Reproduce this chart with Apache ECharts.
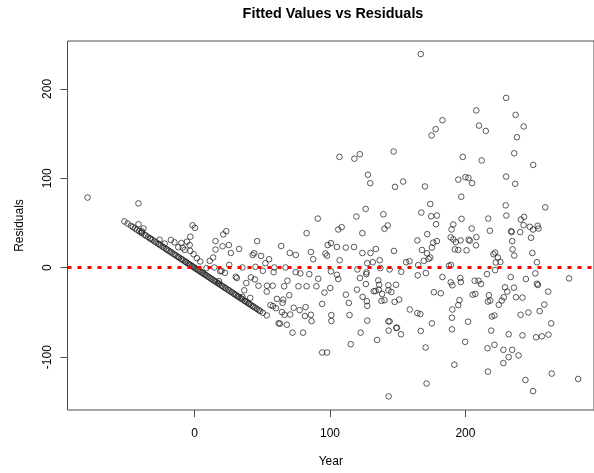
<!DOCTYPE html>
<html>
<head>
<meta charset="utf-8">
<script src="https://cdn.jsdelivr.net/npm/echarts@6/dist/echarts.min.js"></script>
<style>
  html, body { margin: 0; padding: 0; background: #ffffff; }
  #chart { width: 594px; height: 473px; }
</style>
</head>
<body>
<div id="chart"></div>
<script>
// Residuals against fitted values; every point is [fitted, residual].

// Observations with a zero response: residual equals minus the fitted value.
const zeroResponse = [
  [-51.8,51.8],[-49.4,49.4],[-47,47],[-45.5,45.5],[-44,44],[-42.6,42.6],[-41,41],[-39.5,39.5],
  [-38.9,38.9],[-37,37],[-36,36],[-34.5,34.5],[-33,33],[-32.3,32.3],[-31,31],[-29.5,29.5],
  [-28.4,28.4],[-27,27],[-26,26],[-24.8,24.8],[-23.5,23.5],[-22.4,22.4],[-21,21],[-20.1,20.1],
  [-19,19],[-17.8,17.8],[-16.9,16.9],[-15.5,15.5],[-14.6,14.6],[-13.4,13.4],[-12.1,12.1],[-11.3,11.3],
  [-10,10],[-9.2,9.2],[-8.1,8.1],[-7,7],[-6.2,6.2],[-5.1,5.1],[-4,4],[-3.2,3.2],[-2.1,2.1],[-1.3,1.3],
  [-0.4,0.4],[0.6,-0.6],[1.5,-1.5],[2.4,-2.4],[3.5,-3.5],[4.3,-4.3],[5.4,-5.4],[6.2,-6.2],[7.3,-7.3],
  [8.1,-8.1],[9,-9],[10.2,-10.2],[11,-11],[12.1,-12.1],[13,-13],[14.2,-14.2],[15,-15],[16.1,-16.1],
  [17.2,-17.2],[18,-18],[19.1,-19.1],[20.3,-20.3],[21.2,-21.2],[22.4,-22.4],[23.1,-23.1],[24.5,-24.5],
  [25.3,-25.3],[26.6,-26.6],[27.4,-27.4],[28.7,-28.7],[29.5,-29.5],[30.6,-30.6],[31.8,-31.8],[32.5,-32.5],
  [33.7,-33.7],[34.6,-34.6],[35.4,-35.4],[36.8,-36.8],[37.5,-37.5],[38.6,-38.6],[39.7,-39.7],[40.4,-40.4],
  [41.5,-41.5],[42.8,-42.8],[43.6,-43.6],[44.9,-44.9],[46.1,-46.1],[47.4,-47.4],[48.5,-48.5],[50.4,-50.4],
  [53.3,-53.3],[62.1,-62.1],[63,-62.6]
];

// Small fitted values (below zero).
const lowFitted = [
  [-79,78.5],[-41.4,72],[-41.4,48.7],[-37.7,43.9],[-38.9,40.8],[-25.8,31.4],[-17.5,31],[-14.8,28.4],
  [-9.7,27.6],[-5.6,29.2],[-3.1,34.7],[-1.5,47.5],[0.3,44.7],[-8.8,22.5],[-7.3,19.9],[-3.6,25.4],
  [-0.7,15.1],[-3.1,18.8],[-22,27],[-12,23]
];

// Fitted values between 0 and 100.
const midLowFitted = [
  [23.4,40.9],[21.2,37.3],[15.5,29.8],[25.3,25.4],[20.7,24],[15.5,20.3],[46.2,29.8],[32.9,21],
  [26.8,16.5],[13.7,11.4],[11.2,7.7],[4.2,7],[1.7,10.7],[44,16.2],[42.9,14.3],[49.1,13.2],[64,24.3],
  [70.3,16.5],[74.7,14.3],[55,9.5],[52.3,5.1],[85.9,17.6],[87.6,9.5],[96.6,15.9],[25.6,3.2],[8.8,-0.4],
  [14.6,0.3],[35.3,0.3],[45,1],[58.9,0.3],[67.2,0.3],[50.4,-3.4],[58.4,-4.9],[74.7,-4.9],[78.1,-6.3],
  [84.7,-7.1],[30.4,-10.1],[31.2,-11.5],[19,-4.1],[19.9,-3.4],[22.4,-5.7],[18,-14.9],[41.6,-10.8],
  [44.5,-13],[38.2,-17.1],[68.6,-14.5],[91.3,-12.3],[53.5,-20.1],[57.7,-20.1],[47.2,-20.1],[66.2,-20.7],
  [76.7,-20.7],[82.7,-20.7],[90,-20.7],[91,55],[82.7,38.7],
  [64.5,-49.6],[66.4,-52.6],[70.6,-52.3],[56,-41.8],[57.9,-42.9],[60.1,-45.2],[60.8,-34.8],[65.5,-35.6],
  [65,-39.3],[69.9,-30.7],[73.2,-44.8],[77.6,-47.4],[82,-44],[81.5,-54],[85.9,-52.6],[86.4,-59.6],
  [94.2,-40.4],[95.9,-27.8],[53.3,-26.7],[36.7,-25.2],[41.1,-33.7],[35.3,-32.6],[68.1,-63.7],
  [72.3,-72.6],[80.1,-72.6],[94.2,-94.8],[97.8,-94.8]
];

// Fitted values between 100 and 200.
const midHighFitted = [
  [108.6,45.4],[106.1,42.8],[123.9,38.7],[142.6,47.3],[140.2,43.6],[178.3,48.7],[191,48.4],[189.8,42.8],
  [171.8,37.6],[164.5,30.6],[176.2,28.1],[178.9,29.8],[189.1,34],[191,31.7],[192.9,28.7],[196.4,30.6],
  [100.7,27.6],[98.3,25.4],[105.1,23.2],[111.7,22.5],[117.7,23.2],[123.9,16.5],[129.9,16.5],[133.8,21],
  [147.2,18.8],[167.9,19.9],[171.6,16.2],[175.2,22.5],[174,11.4],[172.8,9.9],[192.2,20.6],[194.7,19.9],
  [107.1,8.4],[131.6,6.2],[127.5,5.1],[136.7,8.4],[156.2,6.2],[158.7,7.3],[165.1,2.9],[169.2,7.7],
  [187.8,2.1],[189.3,3.2],[97.8,13.6],[120.2,-1.9],[137.2,-0.4],[144,-1.9],[152.6,-4.5],[100.7,-4.1],
  [105.1,-7.9],[106.1,-12.6],[127,-5.2],[126.8,-7.1],[122.1,-11.5],[164.8,-8.5],[170.8,-6],[183,-10.4],
  [135.6,-14.1],[136.3,-19],[126.5,-18.2],[143.1,-19.6],[148.7,-19],[189.1,-16.3],[190.3,-19.6],
  [196.2,-11.5],[196.6,-16],[100.2,-22.6],[101,-52.9],[101,-59.6],
  [111.7,-30.1],[113.9,-39.3],[119.9,-24.5],[124.1,-32.6],[127.2,-37.4],[127.5,-42.6],[132.3,-26.3],
  [133.6,-26],[136,-24.5],[138.5,-29.3],[138,-37.1],[140.2,-36.3],[143.1,-25.2],[145.3,-27.1],
  [147.7,-38.2],[151.1,-35.6],[158.9,-46.7],[164.5,-50.7],[166.7,-51.8],[176.7,-27.4],[181.8,-28.5],
  [195.6,-36.3],[194.7,-41.8],[190.3,-46.7],[190,-55.9],[190,-68.9],[114.4,-52.9],[127.5,-59.2],
  [143.1,-60],[144,-60],[122.6,-72.6],[143.3,-70.3],[148.9,-67.3],[149.4,-67],[152.4,-74.4],[167,-70.7],
  [175.2,-62.2],[115.3,-85.5],[134.8,-80.7],[170.6,-89.2],[199.8,-82.9],[191.8,-108.4],[171.3,-129.5],
  [143.3,-143.9],
  [129.7,94.6],[148,90.5],[154,96.4],[170.1,90.9],[194.7,98.6],[196.9,79.4],[174,71.3],[167.4,61.7],
  [174.7,57.6],[178.9,58.4],[126.3,65.8],[119.5,57.3],[139.4,59.8],[197.1,54.7],
  [167,239],[183,165],[178,155],[175,148],[107,124],[118,122],[122,127],[147,130],[198,124],[128,104]
];

// Fitted values above 200.
const highFitted = [
  [230,190],[208,176],[237,171],[210,159],[215,153],[243,158],[238,146],[212,120],[236,128],[250,115],
  [200,101.3],[202.2,100.5],[204.9,94.6],[230,102],[236.7,93.9],[229.7,69.8],[258.9,67.6],[230.2,58.4],
  [216.8,55],[243.3,56.9],[240.9,53.9],
  [204.6,43.9],[218,41.4],[233.8,40.9],[234.1,39.8],[240.4,39.8],[242.9,47.6],[247.5,45.8],[249.9,42.8],
  [253.3,46.9],[254,43.9],[248.4,33.6],[234.5,29.8],[208.1,34.3],[202.4,31.4],[203.2,30.3],[207.8,25.1],
  [200.8,19.5],[234.8,20.6],[236,13.6],[249.4,16.5],[220.7,15.1],[221.9,17],[223.9,11.4],[225.8,6.5],
  [222.4,5.9],[252.8,6.2],[221.9,-2.7],[215.9,-7.1],[233.4,-10.4],[244.6,-12.6],[251.6,-6.3],
  [276.5,-11.9],[206.8,-14.5],[209.7,-14.5],[252.8,-17.9],
  [211.5,-18.2],[205.3,-30.1],[207.3,-29.3],[217.3,-30.7],[216.6,-37.8],[218.3,-36.7],[229.2,-21.9],
  [235.8,-22.3],[230.9,-26.7],[228.3,-33],[226.8,-36.7],[224.6,-41.5],[237.3,-33],[242.1,-33.4],
  [253.5,-19.3],[261.1,-26.7],[258.2,-41.2],[254.8,-48.5],[240.7,-52.6],[246.5,-50],[219.5,-54.5],
  [221.4,-53.4],[202,-60.4],[263.3,-62.2],[219,-70.3],[231.9,-74.4],[242.1,-75.6],[252.1,-77.8],
  [256.4,-76.7],[261.3,-74.8],[216.3,-90],[221.4,-86.2],[228,-91.8],[234.5,-91.8],[231.9,-100],
  [239.2,-98.1],[228,-106.6],[216.6,-116.2],[244.3,-125.5],[263.7,-118.4],[283.2,-124.4],[249.9,-138]
];

const xTicks = [0, 100, 200];
const yTicks = [-100, 0, 100, 200];

const allPoints = zeroResponse.concat(lowFitted, midLowFitted, midHighFitted, highFitted);

const font = '"Liberation Sans", Arial, sans-serif';
const ink = '#000000';

const chart = echarts.init(document.getElementById('chart'), null, { renderer: 'canvas' });

chart.setOption({
  animation: false,
  backgroundColor: '#ffffff',
  graphic: [{
    type: 'text',
    x: 333,
    y: 14.5,
    style: {
      text: 'Fitted Values vs Residuals',
      font: 'bold 14.4px ' + font,
      fill: ink,
      align: 'center',
      verticalAlign: 'middle'
    }
  }],
  grid: {
    left: 67.5, top: 41, right: -6, bottom: 60.3,
    show: true, borderColor: '#4d4d4d', borderWidth: 1,
    containLabel: false
  },
  xAxis: {
    type: 'value',
    min: -93.8, max: 294.9,
    splitLine: { show: false },
    axisLine: { show: false, onZero: false },
    axisTick: { show: true, inside: false, length: 7, customValues: xTicks,
                lineStyle: { color: '#4d4d4d', width: 1 } },
    axisLabel: { show: true, customValues: xTicks, margin: 18,
                 fontFamily: font, fontSize: 12, color: ink },
    name: 'Year', nameLocation: 'middle', nameGap: 46,
    nameTextStyle: { fontFamily: font, fontSize: 12, color: ink }
  },
  yAxis: {
    type: 'value',
    min: -159.1, max: 253.6,
    splitLine: { show: false },
    axisLine: { show: false, onZero: false },
    axisTick: { show: true, inside: false, length: 7, customValues: yTicks,
                lineStyle: { color: '#4d4d4d', width: 1 } },
    axisLabel: { show: true, customValues: yTicks, rotate: 90, margin: 14,
                 fontFamily: font, fontSize: 12, color: ink },
    name: 'Residuals', nameLocation: 'middle', nameGap: 42, nameRotate: 90,
    nameTextStyle: { fontFamily: font, fontSize: 12, color: ink }
  },
  series: [{
    type: 'scatter',
    data: allPoints,
    symbol: 'circle',
    symbolSize: 5.6,
    itemStyle: { color: 'rgba(0,0,0,0)', borderColor: '#1a1a1a', borderWidth: 0.9 },
    silent: true,
    markLine: {
      silent: true,
      symbol: ['none', 'none'],
      label: { show: false },
      lineStyle: { color: '#ff0000', width: 3, type: [4, 6] },
      data: [{ yAxis: 0 }]
    }
  }]
});
</script>
</body>
</html>
